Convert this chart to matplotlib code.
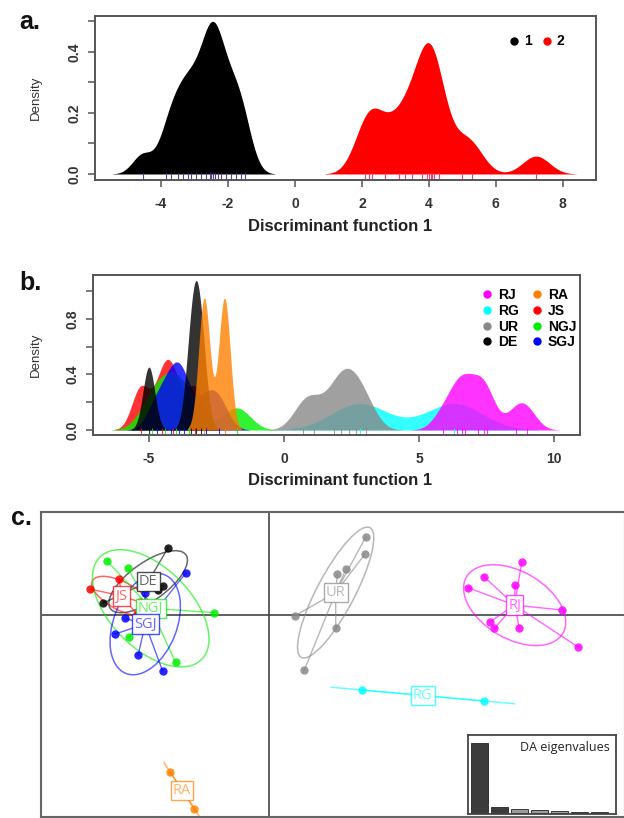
import numpy as np
import matplotlib
matplotlib.use("Agg")
import matplotlib.pyplot as plt
from matplotlib.colors import to_rgba
from matplotlib.lines import Line2D
from matplotlib.patches import Ellipse
from matplotlib.transforms import blended_transform_factory

plt.rcParams['font.family'] = ['Liberation Sans', 'DejaVu Sans']
plt.rcParams['axes.unicode_minus'] = False

W, H = 624, 818

# ---- a. discriminant scores for K = 2 clusters
clust_names = ['1', '2']
clust_colors = ['black', 'red']
clust_rug_colors = ['#5a3c9a', '#f0406a']
clust_bw = [0.3, 0.4]
clust_scores = [
    [-4.55, -3.85, -3.7, -3.5, -3.35, -3.2, -3.1, -2.95, -2.8, -2.65, -2.55,
     -2.5, -2.45, -2.4, -1.75, -2.3, -2.2, -2.05, -1.9, -1.6, -1.5],
    [2.1, 2.2, 2.3, 2.7, 3.1, 3.3, 3.5, 3.8, 3.95, 4.0, 4.05, 4.1, 4.15,
     4.3, 5.0, 5.3, 7.2],
]

# ---- b. discriminant scores per population
pop_names = ['RJ', 'RG', 'UR', 'DE', 'RA', 'JS', 'NGJ', 'SGJ']
pop_colors = ['#ff00ff', '#00ffff', '#888888', '#000000',
              '#ff8000', '#ff0000', '#00ee00', '#0000ff']
pop_bw = [0.4, 1.05, 0.45, 0.22, 0.21, 0.33, 0.5, 0.37]
pop_scores = [
    [5.9, 6.4, 6.6, 6.7, 7.2, 7.4, 7.5, 8.6, 9.0],          # RJ
    [2.8, 6.3],                                             # RG
    [0.7, 1.1, 1.85, 2.1, 2.4, 2.65, 3.05],                 # UR
    [-5.0, -3.44, -3.25, -3.06],                            # DE
    [-2.95, -2.2],                                          # RA
    [-5.3, -4.5, -4.1, -3.3],                               # JS
    [-4.9, -4.4, -4.0, -3.5, -1.75],                        # NGJ
    [-4.7, -4.2, -3.9, -3.7, -2.9, -2.4],                   # SGJ
]
draw_order = ['RG', 'UR', 'RJ', 'JS', 'NGJ', 'SGJ', 'DE', 'RA']

# ---- c. scatter of discriminant functions 1 & 2
pop_x = [
    [12.64, 10.75, 12.3, 9.94, 14.64, 11.05, 11.27, 12.52, 15.44],  # RJ
    [4.64, 10.75],                                                 # RG
    [4.85, 4.8, 3.85, 3.42, 1.3, 3.34, 1.77],                      # UR
    [-5.04, -8.29, -5.29, -5.55],                                  # DE
    [-4.95, -3.74],                                                # RA
    [-8.95, -7.49, -6.45, -6.6],                                   # JS
    [-8.09, -7.07, -2.74, -7.0, -4.67],                            # NGJ
    [-4.17, -7.2, -7.7, -6.54, -5.32, -6.2],                       # SGJ
]
pop_y = [
    [2.67, 1.92, 1.5, 1.37, 0.25, -0.34, -0.67, -0.67, -1.59],
    [-3.75, -4.3],
    [3.92, 3.05, 2.3, 2.05, -0.04, -0.67, -2.75],
    [3.37, 0.59, 1.45, 1.25],
    [-7.84, -9.68],
    [1.3, 1.79, 0.65, 0.05],
    [2.7, 2.34, 0.12, -1.12, -2.37],
    [2.09, -0.17, -0.95, -2.0, -2.8, 1.1],
]
eigenvalues = [1.0, 0.075, 0.05, 0.035, 0.03, 0.016, 0.005]


def kde(points, bw):
    pts = np.asarray(points, dtype=float)
    grid = np.linspace(pts.min() - 3 * bw, pts.max() + 3 * bw, 600)
    dens = np.exp(-(grid[:, None] - pts[None, :]) ** 2 / (2 * bw ** 2)).sum(axis=1)
    dens /= len(pts) * bw * np.sqrt(2 * np.pi)
    return grid, dens


def px_axes(fig, left, top, right, bottom):
    return fig.add_axes([left / W, 1 - bottom / H, (right - left) / W, (bottom - top) / H])


def r_style(ax, yticks, ylabels):
    for s in ax.spines.values():
        s.set_color('#555555')
        s.set_linewidth(1.4)
    ax.tick_params(direction='out', length=5, width=1.1, color='#555555',
                   labelsize=10, labelcolor='#333333')
    ax.tick_params(axis='x', pad=7)
    ax.tick_params(axis='y', pad=5)
    ax.set_yticks(yticks)
    ax.set_yticklabels(ylabels, rotation=90, va='center', fontweight='bold')
    for lab in ax.get_xticklabels():
        lab.set_fontweight('bold')


fig = plt.figure(figsize=(W / 100, H / 100), dpi=100)

# ================= panel a
ax_a = px_axes(fig, 95, 16, 596, 180)
rug_tr = blended_transform_factory(ax_a.transData, ax_a.transAxes)
for scores, col, bw, rcol in zip(clust_scores, clust_colors, clust_bw, clust_rug_colors):
    g, d = kde(scores, bw)
    ax_a.fill_between(g, d, color=col, lw=0)
    ax_a.vlines(scores, 0, 0.045, transform=rug_tr, colors=rcol, lw=0.8)
ax_a.set_xlim(-5.97, 8.99)
ax_a.set_ylim(-0.0197, 0.518)
ax_a.set_xticks([-4, -2, 0, 2, 4, 6, 8])
r_style(ax_a, [0, 0.1, 0.2, 0.3, 0.4, 0.5], ['0.0', '', '0.2', '', '0.4', ''])
h_a = [Line2D([], [], ls='', marker='o', ms=5, color=c) for c in clust_colors]
ax_a.legend(h_a, clust_names, ncol=2, frameon=False, loc='upper right',
            bbox_to_anchor=(0.95, 0.93), handletextpad=0.2, columnspacing=0.6,
            handlelength=1.0, borderpad=0, prop={'size': 10, 'weight': 'bold'})

# ================= panel b
ax_b = px_axes(fig, 93, 275, 580, 435)
rug_tr = blended_transform_factory(ax_b.transData, ax_b.transAxes)
for name in draw_order:
    i = pop_names.index(name)
    g, d = kde(pop_scores[i], pop_bw[i])
    ax_b.fill_between(g, d, color=pop_colors[i], alpha=0.8, lw=0)
for i in range(len(pop_names)):
    ax_b.vlines(pop_scores[i], 0, 0.045, transform=rug_tr, colors=pop_colors[i],
                lw=0.8, alpha=0.8)
ax_b.set_xlim(-7.07, 10.96)
ax_b.set_ylim(-0.036, 1.117)
ax_b.set_xticks([-5, 0, 5, 10])
r_style(ax_b, [0, 0.2, 0.4, 0.6, 0.8, 1.0], ['0.0', '', '0.4', '', '0.8', ''])
h_b = [Line2D([], [], ls='', marker='o', ms=5, color=c) for c in pop_colors]
ax_b.legend(h_b, pop_names, ncol=2, frameon=False, loc='upper left',
            bbox_to_anchor=(0.78, 0.96), handletextpad=0.3, columnspacing=0.8,
            handlelength=1.0, labelspacing=0.12, borderpad=0,
            prop={'size': 10, 'weight': 'bold'})

for y_lab, y_dens in [(227, 98), (481, 355)]:
    fig.text(340 / W, 1 - y_lab / H, 'Discriminant function 1', ha='center', va='center',
             fontsize=12, fontweight='bold', color='#222222')
    fig.text(36 / W, 1 - y_dens / H, 'Density', rotation=90, ha='center', va='center',
             fontsize=9.5, color='#333333')

# ================= panel c
ax_c = px_axes(fig, 41, 512, 625, 817)
ax_c.set_xlim(-11.4, 17.8)
ax_c.set_ylim(-10.1, 5.15)
ax_c.set_xticks([])
ax_c.set_yticks([])
for s in ax_c.spines.values():
    s.set_color('#666666')
    s.set_linewidth(1.5)
ax_c.axhline(0, color='#444444', lw=1.2, zorder=1)
ax_c.axvline(0, color='#444444', lw=1.2, zorder=1)

for xs, ys, col, name in zip(pop_x, pop_y, pop_colors, pop_names):
    xs = np.asarray(xs)
    ys = np.asarray(ys)
    cx, cy = xs.mean(), ys.mean()
    cov = np.cov(np.vstack([xs, ys]), bias=True)
    vals, vecs = np.linalg.eigh(cov)
    ang = np.degrees(np.arctan2(vecs[1, 1], vecs[0, 1]))
    w = 2 * 1.5 * np.sqrt(max(vals[1], 0))
    h = 2 * 1.5 * np.sqrt(max(vals[0], 0))
    if h < 1e-3:
        ux, uy = vecs[0, 1], vecs[1, 1]
        ax_c.plot([cx - ux * w / 2, cx + ux * w / 2], [cy - uy * w / 2, cy + uy * w / 2],
                  color=col, lw=1.1, alpha=0.6, zorder=2)
    else:
        ax_c.add_patch(Ellipse((cx, cy), w, h, angle=ang, fill=False, ec=col,
                               lw=1.1, alpha=0.6, zorder=2))
    for x, y in zip(xs, ys):
        ax_c.plot([cx, x], [cy, y], color=col, lw=1.0, alpha=0.6, zorder=2)
    ax_c.plot(xs, ys, ls='', marker='o', ms=6, color=col, alpha=0.85, mec='none', zorder=3)
    ax_c.text(cx, cy, name, ha='center', va='center', fontsize=10.5, color=to_rgba(col, 0.6),
              family=['Open Sans', 'DejaVu Sans'], zorder=4,
              bbox=dict(boxstyle='square,pad=0.15', fc='white', ec=to_rgba(col, 0.7), lw=1.0))

# eigenvalue inset
ax_e = px_axes(fig, 468, 735, 616, 814)
bar_cols = ['#3c3c3c', '#3c3c3c'] + ['#9a9a9a'] * (len(eigenvalues) - 2)
ax_e.bar(0.7 + 1.2 * np.arange(len(eigenvalues)), eigenvalues, width=1.0,
         color=bar_cols, edgecolor='#222222', lw=0.6)
ax_e.set_xlim(0, 8.9)
ax_e.set_ylim(-0.02, 1.12)
ax_e.set_xticks([])
ax_e.set_yticks([])
for s in ax_e.spines.values():
    s.set_color('#444444')
    s.set_linewidth(1.3)
ax_e.text(0.96, 0.84, 'DA eigenvalues', transform=ax_e.transAxes, ha='right', va='center',
          fontsize=9, color='#222222', family=['Open Sans', 'DejaVu Sans'])

for lab, x, y in [('a.', 30, 22), ('b.', 30, 283), ('c.', 21, 518)]:
    fig.text(x / W, 1 - y / H, lab, ha='center', va='center', fontsize=18,
             fontweight='bold', color='#111111')

fig.savefig('out.png', dpi=100)
